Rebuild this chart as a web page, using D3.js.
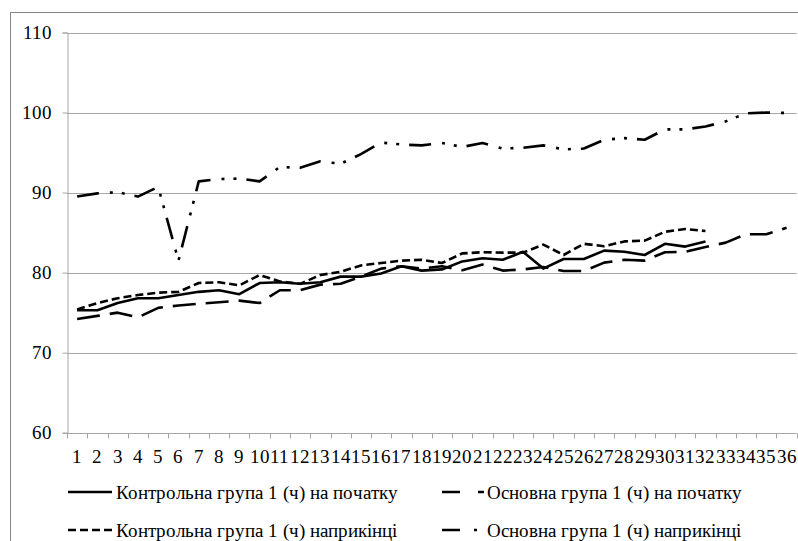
<!DOCTYPE html>
<html>
<head>
<meta charset="utf-8">
<script src="https://cdn.jsdelivr.net/npm/d3@7/dist/d3.min.js"></script>
<style>
  @font-face {
    font-family: "RefSerif";
    src: local("Liberation Serif"), local("LiberationSerif"), local("LiberationSerif-Regular"),
         local("Tinos"), local("Tinos-Regular"), local("Times New Roman"), local("TimesNewRomanPSMT"),
         local("DejaVu Serif"), local("DejaVuSerif"), local("Noto Serif"), local("NotoSerif-Regular"),
         local("FreeSerif");
  }
  html, body { margin: 0; padding: 0; background: #fff; }
  svg { display: block; }
  svg text { font-family: "RefSerif", "Liberation Serif", "Times New Roman", serif !important; }
</style>
</head>
<body>
<svg id="chart" width="798" height="541"></svg>
<script>
const categories = ["1","2","3","4","5","6","7","8","9","10","11","12","13","14","15","16","17","18",
  "19","20","21","22","23","24","25","26","27","28","29","30","31","32","33","34","35","36"];
const yTicks = [60, 70, 80, 90, 100, 110];

const seriesNames = [
  "Контрольна група 1 (ч) на початку",
  "Основна група 1 (ч) на початку",
  "Контрольна група 1 (ч) наприкінці",
  "Основна група 1 (ч) наприкінці"
];

const controlStart = [75.3, 75.3, 76.2, 76.8, 76.8, 77.2, 77.6, 77.8, 77.3, 78.7, 78.8, 78.6,
  78.8, 79.5, 79.5, 79.9, 80.8, 80.25, 80.4, 81.4, 81.8, 81.6, 82.6, 80.5,
  81.7, 81.7, 82.75, 82.6, 82.2, 83.6, 83.25, 83.9];
const mainStart = [74.2, 74.6, 75.0, 74.4, 75.6, 75.9, 76.1, 76.3, 76.5, 76.2, 77.8, 77.8,
  78.5, 78.6, 79.5, 80.5, 80.8, 80.5, 80.8, 80.3, 81.0, 80.25, 80.4, 80.7,
  80.2, 80.2, 81.25, 81.6, 81.5, 82.55, 82.6, 83.2, 83.75, 84.8, 84.8, 85.6];
const controlEnd = [75.4, 76.2, 76.8, 77.2, 77.5, 77.6, 78.7, 78.8, 78.4, 79.7, 78.9, 78.6,
  79.7, 80.1, 80.9, 81.2, 81.5, 81.6, 81.2, 82.4, 82.55, 82.5, 82.5, 83.5,
  82.2, 83.6, 83.3, 83.9, 84.0, 85.1, 85.45, 85.2];
const mainEnd = [89.5, 89.9, 90.05, 89.5, 90.7, 81.5, 91.4, 91.7, 91.75, 91.4, 93.2, 93.1,
  93.9, 93.6, 94.8, 96.25, 96.0, 95.9, 96.2, 95.7, 96.2, 95.5, 95.6, 95.9,
  95.4, 95.5, 96.6, 96.8, 96.6, 97.9, 97.9, 98.25, 98.9, 99.9, 100, 99.95];

const seriesValues = [controlStart, mainStart, controlEnd, mainEnd];
const dashes = [null, "23,10", "8,4", "22,11,3,9,3,10"];
const legendDashes = [null, "18,18,6", "8,4", "18,14,3,20"];

const svg = d3.select("#chart");
const plotL = 67, plotR = 796.7, plotT = 32.5, plotB = 432.7;

// outer chart border
svg.append("rect").attr("x", 10.5).attr("y", 12.5).attr("width", 800).attr("height", 540)
  .attr("fill", "#fff").attr("stroke", "#868686").attr("stroke-width", 1);

const x = d3.scaleBand().domain(categories).range([plotL, plotR]).padding(0);
const y = d3.scaleLinear().domain([60, 110]).range([plotB, plotT]);

// gridlines
svg.append("g").selectAll("line").data(yTicks.filter(v => v > 60)).join("line")
  .attr("x1", plotL).attr("x2", plotR)
  .attr("y1", d => Math.round(y(d)) + 0.5).attr("y2", d => Math.round(y(d)) + 0.5)
  .attr("stroke", "#a6a6a6").attr("stroke-width", 1);

// y axis
const yAxis = svg.append("g").attr("transform", `translate(${plotL + 0.5},0)`)
  .call(d3.axisLeft(y).tickValues(yTicks).tickSize(5).tickPadding(11).tickFormat(d3.format("d")));
yAxis.attr("font-family", null).attr("font-size", null);
yAxis.select(".domain").attr("stroke", "#a6a6a6");
yAxis.selectAll(".tick line").attr("stroke", "#a6a6a6");
yAxis.selectAll("text").style("font-size", "19px").attr("fill", "#000");

// x axis
const xAxisG = svg.append("g").attr("transform", `translate(0,${Math.round(plotB) + 0.5})`);
xAxisG.append("line").attr("x1", plotL).attr("x2", plotR).attr("y1", 0).attr("y2", 0)
  .attr("stroke", "#a6a6a6");
xAxisG.selectAll("line.tk").data(categories.concat(["end"])).join("line").attr("class", "tk")
  .attr("x1", (d, i) => Math.round(plotL + i * x.step()) + 0.5)
  .attr("x2", (d, i) => Math.round(plotL + i * x.step()) + 0.5)
  .attr("y1", 0).attr("y2", 5).attr("stroke", "#a6a6a6");
xAxisG.selectAll("text").data(categories).join("text")
  .attr("x", d => x(d) + x.bandwidth() / 2)
  .attr("y", 29.5)
  .attr("text-anchor", "middle")
  .style("font-size", "19px")
  .attr("fill", "#000")
  .text(d => d);

// lines
const line = d3.line()
  .x((d, i) => x(categories[i]) + x.bandwidth() / 2)
  .y(d => y(d));

svg.append("g").selectAll("path").data(seriesValues).join("path")
  .attr("d", d => line(d))
  .attr("fill", "none")
  .attr("stroke", "#000")
  .attr("stroke-width", 2.6)
  .attr("stroke-linejoin", "round")
  .attr("stroke-dasharray", (d, i) => dashes[i]);

// legend
const legendPos = [
  {x: 68, y: 492, tx: 116},
  {x: 442, y: 492, tx: 487},
  {x: 68, y: 530, tx: 116},
  {x: 442, y: 530, tx: 487}
];
const lg = svg.append("g").selectAll("g").data(seriesNames).join("g");
lg.append("line")
  .attr("x1", (d, i) => legendPos[i].x)
  .attr("x2", (d, i) => legendPos[i].x + 44)
  .attr("y1", (d, i) => legendPos[i].y)
  .attr("y2", (d, i) => legendPos[i].y)
  .attr("stroke", "#000").attr("stroke-width", 2.6)
  .attr("stroke-dasharray", (d, i) => legendDashes[i]);
lg.append("text")
  .attr("x", (d, i) => legendPos[i].tx)
  .attr("y", (d, i) => legendPos[i].y + 6.5)
  .style("font-size", "19px")
  .attr("fill", "#000")
  .text(d => d);
</script>
</body>
</html>
